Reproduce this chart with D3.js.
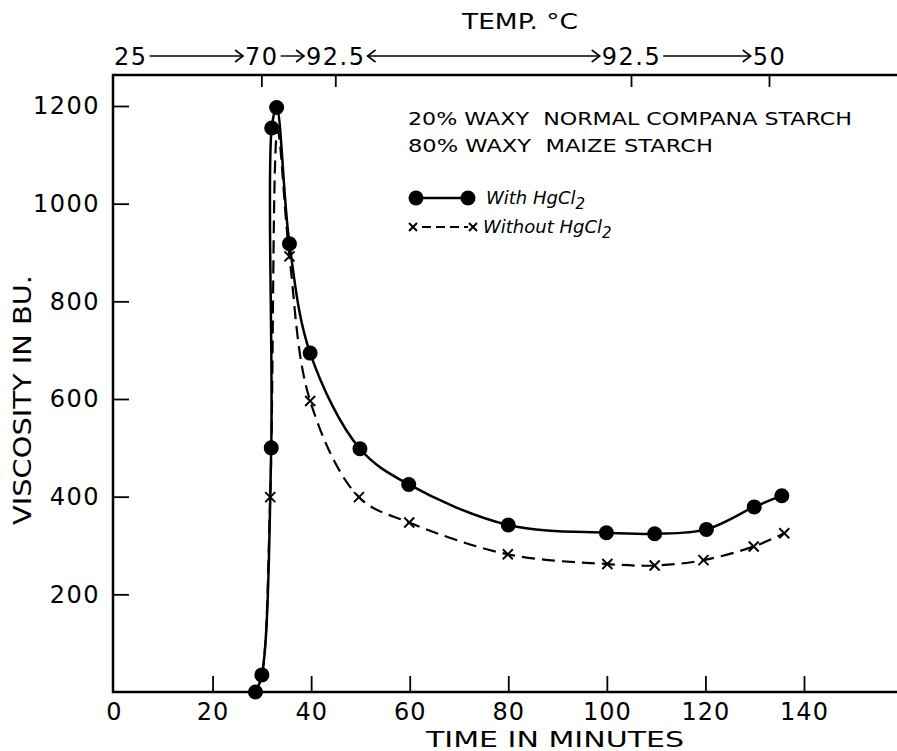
<!DOCTYPE html>
<html>
<head>
<meta charset="utf-8">
<script src="https://cdn.jsdelivr.net/npm/d3@7"></script>
<style>
  body { margin: 0; background: #fff; }
  text { font-family: "DejaVu Sans", sans-serif; fill: #000; }
</style>
</head>
<body>
<div id="chart"></div>
<script>
// values
const withTime = [28.7, 30, 31.9, 32, 33, 35.6, 39.8, 49.9, 59.8, 80, 99.9, 109.7, 120.2, 129.9, 135.5];
const withVisc = [0, 35, 500, 1155, 1197, 918, 694, 498, 425, 342, 326, 324, 333, 379, 402];
const withoutTime = [28.7, 30, 31.7, 33.2, 35.6, 39.8, 49.7, 59.9, 79.9, 100.1, 109.7, 119.6, 129.8, 136];
const withoutVisc = [0, 35, 399, 1150, 892, 596, 399, 347, 282, 262, 259, 270, 298, 325];

const xTicks = [0, 20, 40, 60, 80, 100, 120, 140];
const yTicks = [200, 400, 600, 800, 1000, 1200];

// temperature programme along the top
const tempLabels = ["25", "70", "92.5", "92.5", "50"];
const tempTimes = [0, 30, 45, 105, 133];
const tempArrows = ["right", "right", "both", "right"];

const width = 897, height = 751;
const margin = {top: 75, right: 0, bottom: 59, left: 113};

let svg = d3.select("#chart")
    .append("svg")
        .attr("width", width)
        .attr("height", height);

let xScale = d3.scaleLinear()
    .domain([0, 140])
    .range([margin.left + 1, 804]);

let yScale = d3.scaleLinear()
    .domain([0, 1200])
    .range([height - margin.bottom, 106]);

const y0 = yScale(0);

// frame: left, top and bottom lines run off the right edge
svg.append("path")
    .attr("d", `M${width},${margin.top}H${margin.left}V${y0}H${width}`)
    .attr("fill", "none")
    .attr("stroke", "#000")
    .attr("stroke-width", 2.5);

// bottom axis, ticks pointing up
let xAxis = svg.append("g")
    .attr("transform", `translate(0, ${y0})`)
    .call(d3.axisBottom(xScale).tickValues(xTicks).tickSize(-16).tickPadding(11));
xAxis.select(".domain").remove();
xAxis.selectAll("line").attr("stroke-width", 1.8)
    .filter(d => d === 0).remove();
xAxis.selectAll("text")
    .attr("font-size", "24px")
    .attr("font-family", "DejaVu Sans")
    .attr("letter-spacing", "1px");

// left axis, ticks pointing in
let yAxis = svg.append("g")
    .attr("transform", `translate(${margin.left}, 0)`)
    .call(d3.axisLeft(yScale).tickValues(yTicks).tickFormat(d3.format("d"))
        .tickSize(-16).tickPadding(13));
yAxis.select(".domain").remove();
yAxis.selectAll("line").attr("stroke-width", 1.8);
yAxis.selectAll("text")
    .attr("font-size", "24px")
    .attr("font-family", "DejaVu Sans")
    .attr("letter-spacing", "1.5px");

// axis titles
svg.append("text")
    .attr("x", 555).attr("y", 747)
    .attr("text-anchor", "middle")
    .attr("font-size", "21px")
    .attr("textLength", 258)
    .attr("lengthAdjust", "spacingAndGlyphs")
    .text("TIME IN MINUTES");

svg.append("text")
    .attr("transform", "translate(31, 400) rotate(-90)")
    .attr("text-anchor", "middle")
    .attr("font-size", "24px")
    .attr("textLength", 250)
    .attr("lengthAdjust", "spacingAndGlyphs")
    .text("VISCOSITY IN BU.");

svg.append("text")
    .attr("x", 520).attr("y", 29)
    .attr("text-anchor", "middle")
    .attr("font-size", "21px")
    .attr("textLength", 116)
    .attr("lengthAdjust", "spacingAndGlyphs")
    .text("TEMP. °C");

// temperature ticks hanging from the top line
svg.selectAll(".temp-tick")
    .data(tempTimes.slice(1))
    .enter()
    .append("line")
        .attr("class", "temp-tick")
        .attr("x1", d => xScale(d)).attr("x2", d => xScale(d))
        .attr("y1", margin.top).attr("y2", margin.top + 12)
        .attr("stroke", "#000")
        .attr("stroke-width", 1.8);

// temperature labels and the arrows between them
const tempY = 65;
let boxes = [];
tempLabels.forEach((lab, i) => {
    let t = svg.append("text")
        .attr("x", xScale(tempTimes[i]))
        .attr("y", tempY)
        .attr("text-anchor", i === 0 ? "start" : "middle")
        .attr("font-size", "24px")
        .attr("letter-spacing", "1.5px")
        .text(lab);
    let b = t.node().getBBox();
    boxes.push([b.x, b.x + b.width]);
});

function arrowHead(x, y, dir) {
    svg.append("path")
        .attr("d", `M${x - 8 * dir},${y - 6}L${x},${y}L${x - 8 * dir},${y + 6}`)
        .attr("fill", "none")
        .attr("stroke", "#000")
        .attr("stroke-width", 1.6);
}

tempArrows.forEach((kind, i) => {
    let xa = boxes[i][1] + 2, xb = boxes[i + 1][0] - 2, ya = tempY - 9;
    svg.append("line")
        .attr("x1", xa).attr("x2", xb)
        .attr("y1", ya).attr("y2", ya)
        .attr("stroke", "#000")
        .attr("stroke-width", 1.4);
    arrowHead(xb, ya, 1);
    if (kind === "both") arrowHead(xa, ya, -1);
});

// series
const withData = withTime.map((t, i) => ({t: t, v: withVisc[i]}));
const withoutData = withoutTime.map((t, i) => ({t: t, v: withoutVisc[i]}));

let line = d3.line()
    .x(d => xScale(d.t))
    .y(d => yScale(d.v))
    .curve(d3.curveCatmullRom.alpha(0.5));

svg.append("path")
    .datum(withoutData)
    .attr("d", line)
    .attr("fill", "none")
    .attr("stroke", "#000")
    .attr("stroke-width", 2.2)
    .attr("stroke-dasharray", "13,7");

// crosses only where they are not buried under the dots
svg.selectAll(".xmark")
    .data(withoutData.filter(d => d.v > 100 && d.v < 1100))
    .enter()
    .append("path")
        .attr("class", "xmark")
        .attr("d", "M-5,-5L5,5M-5,5L5,-5")
        .attr("transform", d => `translate(${xScale(d.t)},${yScale(d.v)})`)
        .attr("stroke", "#000")
        .attr("stroke-width", 2);

svg.append("path")
    .datum(withData)
    .attr("d", line)
    .attr("fill", "none")
    .attr("stroke", "#000")
    .attr("stroke-width", 2.5);

svg.selectAll(".dot")
    .data(withData)
    .enter()
    .append("circle")
        .attr("class", "dot")
        .attr("cx", d => xScale(d.t))
        .attr("cy", d => yScale(d.v))
        .attr("r", 7.5)
        .attr("fill", "#000");

// sample description
svg.append("text")
    .attr("x", 408).attr("y", 125)
    .attr("font-size", "17px")
    .attr("textLength", 444)
    .attr("lengthAdjust", "spacingAndGlyphs")
    .attr("xml:space", "preserve")
    .text("20% WAXY  NORMAL COMPANA STARCH");

svg.append("text")
    .attr("x", 408).attr("y", 152)
    .attr("font-size", "17px")
    .attr("textLength", 305)
    .attr("lengthAdjust", "spacingAndGlyphs")
    .attr("xml:space", "preserve")
    .text("80% WAXY  MAIZE STARCH");

// legend
const leg = svg.append("g");
leg.append("line")
    .attr("x1", 416).attr("x2", 468)
    .attr("y1", 198).attr("y2", 198)
    .attr("stroke", "#000").attr("stroke-width", 2.5);
leg.selectAll("circle")
    .data([416, 468])
    .enter()
    .append("circle")
        .attr("cx", d => d).attr("cy", 198).attr("r", 7.5).attr("fill", "#000");

leg.append("line")
    .attr("x1", 419).attr("x2", 468)
    .attr("y1", 227).attr("y2", 227)
    .attr("stroke", "#000").attr("stroke-width", 2)
    .attr("stroke-dasharray", "9,5")
    .attr("stroke-dashoffset", -3);
leg.selectAll(".lx")
    .data([413, 473])
    .enter()
    .append("path")
        .attr("class", "lx")
        .attr("d", "M-4,-4L4,4M-4,4L4,-4")
        .attr("transform", d => `translate(${d},227)`)
        .attr("stroke", "#000").attr("stroke-width", 2);

let t1 = leg.append("text")
    .attr("x", 486).attr("y", 204)
    .attr("font-size", "18px")
    .attr("font-style", "italic");
t1.append("tspan").text("With HgCl");
t1.append("tspan").attr("dy", 5).attr("font-size", "15px").text("2");

let t2 = leg.append("text")
    .attr("x", 483).attr("y", 233)
    .attr("font-size", "18px")
    .attr("font-style", "italic");
t2.append("tspan").text("Without HgCl");
t2.append("tspan").attr("dy", 5).attr("font-size", "15px").text("2");
</script>
</body>
</html>
